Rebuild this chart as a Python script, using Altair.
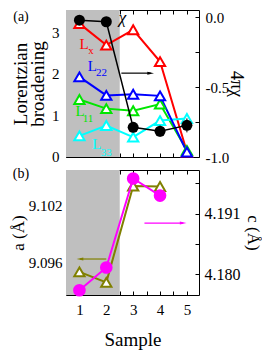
import altair as alt
import pandas as pd

FONT = "Liberation Serif"

# ---------------- data ----------------
samples = [1, 2, 3, 4, 5]
Lx = [3.22, 2.70, 3.07, 2.30, 0.11]
L11 = [1.38, 1.16, 1.11, 1.27, 0.15]
L33 = [0.50, 0.75, 0.47, 0.87, 0.92]
L22 = [1.93, 1.48, 1.51, 1.47, 0.11]
chi = [-0.023, -0.034, -0.788, -0.816, -0.774]
chi_err = [0.02, 0.02, 0.035, 0.04, 0.05]

ac_samples = [1, 2, 3, 4]
a_vals = [9.0931, 9.0955, 9.1049, 9.1031]
c_vals = [4.1804, 4.1785, 4.1960, 4.1959]

series_names = ["Lx", "L11", "L33", "L22"]
series_colors = ["#ff0000", "#00e600", "#00ffff", "#0000ff"]
label_main = ["L", "L", "L", "L"]
label_sub = ["x", "11", "33", "22"]
label_main_x = [1.17, 1.02, 1.65, 1.48]
label_main_y = [2.73, 1.10, 0.31, 2.20]
label_sub_x = [1.43, 1.32, 2.0, 1.82]
label_sub_y = [2.55, 0.91, 0.09, 2.02]

shade_range = [0.5, 2.5]
x_ticks = [1, 1.5, 2, 2.5, 3, 3.5, 4, 4.5, 5]
L_ticks = [0, 0.5, 1, 1.5, 2, 2.5, 3]
chi_ticks = [-1.0, -0.75, -0.5, -0.25, 0.0]
a_ticks = [9.093, 9.096, 9.099, 9.102, 9.105]
c_ticks = [4.180, 4.1855, 4.191, 4.1965]

# arrows: tail x, head x, y (on the left-hand scale of each panel)
arrow_chi = [2.56, 3.65, 2.02]
arrow_a = [2.0, 1.02, 9.0964]
arrow_c = [3.42, 4.86, 9.1002]

W, H1, H2 = 133, 147, 125

# ---------------- helpers ----------------
xscale = alt.Scale(domain=[0.5, 5.45], nice=False, zero=False)
common = dict(tickSize=4, offset=-4, domain=False, grid=False, tickColor="black")

x_plain_bottom = alt.Axis(orient="bottom", values=x_ticks, labels=False, title=None, **common)
x_plain_top = alt.Axis(orient="top", values=x_ticks, labels=False, title=None, **common)
x_label_bottom = alt.Axis(orient="bottom", values=x_ticks,
                          labelExpr="datum.value % 1 == 0 ? format(datum.value, '.0f') : ''",
                          title="Sample", titleFontSize=19, titlePadding=13,
                          labelFontSize=15, labelPadding=7, **common)

L_scale = alt.Scale(domain=[-0.012, 3.55], nice=False, zero=False)
chi_scale = alt.Scale(domain=[-1.0, 0.05], nice=False, zero=False)
a_scale = alt.Scale(domain=[9.0926, 9.1058], nice=False, zero=False)
c_scale = alt.Scale(domain=[4.1762, 4.1989], nice=False, zero=False)

L_axis = alt.Axis(orient="left", values=L_ticks,
                  labelExpr="datum.value % 1 == 0 ? format(datum.value, '.0f') : ''",
                  title=["Lorentzian", "broadening"], titleFontSize=19, titleLineHeight=17,
                  labelFontSize=15, labelPadding=7, titlePadding=4, **common)
chi_axis = alt.Axis(orient="right", values=chi_ticks,
                    labelExpr="(datum.value * 2) % 1 == 0 ? replace(format(datum.value, '.1f'), '\u2212', '-') : ''",
                    title="4πχ", titleFontSize=18, labelFontSize=15, labelPadding=6,
                    titlePadding=-2, **common)
a_axis = alt.Axis(orient="left", values=a_ticks,
                  labelExpr="indexof([9.096, 9.102], datum.value) >= 0 ? format(datum.value, '.3f') : ''",
                  title="a (Å)", titleFontSize=17, labelFontSize=15, labelPadding=4,
                  titlePadding=1, **common)
c_axis = alt.Axis(orient="right", values=c_ticks,
                  labelExpr="indexof([4.18, 4.191], datum.value) >= 0 ? format(datum.value, '.3f') : ''",
                  title="c (Å)", titleFontSize=17, labelFontSize=16, labelPadding=5,
                  titlePadding=3, **common)

shade_df = pd.DataFrame({"x0": [shade_range[0]], "x1": [shade_range[1]]})


def shade(h, xaxis):
    return alt.Chart(shade_df).mark_rect(color="#bfbfbf").encode(
        x=alt.X("x0:Q", scale=xscale, axis=xaxis), x2="x1:Q",
        y=alt.value(0), y2=alt.value(h))


def arrow(spec, color, path, xaxis, yscale, yaxis):
    rd = pd.DataFrame({"tail": [spec[0]], "head": [spec[1]], "yy": [spec[2]]})
    rule = alt.Chart(rd).mark_rule(color=color, strokeWidth=1.2).encode(
        x=alt.X("tail:Q", scale=xscale, axis=xaxis), x2="head:Q",
        y=alt.Y("yy:Q", scale=yscale, axis=yaxis))
    hd = alt.Chart(rd).mark_point(shape=path, filled=True, color=color, size=45, opacity=1).encode(
        x=alt.X("head:Q", scale=xscale, axis=xaxis),
        y=alt.Y("yy:Q", scale=yscale, axis=yaxis))
    return [rule, hd]


# ---------------- top panel ----------------
rows = []
for name, vals in zip(series_names, [Lx, L11, L33, L22]):
    for s, v in zip(samples, vals):
        rows.append({"series": name, "sample": s, "v": v})
Ldf = pd.DataFrame(rows)
stroke_enc = alt.Stroke("series:N", scale=alt.Scale(domain=series_names, range=series_colors), legend=None)

L_lines = alt.Chart(Ldf).mark_line(strokeWidth=2).encode(
    x=alt.X("sample:Q", scale=xscale, axis=x_plain_bottom),
    y=alt.Y("v:Q", scale=L_scale, axis=L_axis),
    stroke=stroke_enc, detail="series:N")
L_pts = alt.Chart(Ldf).mark_point(shape="triangle-up", size=105, strokeWidth=2,
                                  fill="white", fillOpacity=1, opacity=1).encode(
    x=alt.X("sample:Q", scale=xscale, axis=x_plain_bottom),
    y=alt.Y("v:Q", scale=L_scale, axis=L_axis),
    stroke=stroke_enc)

lab_df = pd.DataFrame({"t": label_main, "x": label_main_x, "y": label_main_y, "c": series_colors})
sub_df = pd.DataFrame({"t": label_sub, "x": label_sub_x, "y": label_sub_y, "c": series_colors})
lab_main = alt.Chart(lab_df).mark_text(font=FONT, fontSize=15).encode(
    x=alt.X("x:Q", scale=xscale, axis=x_plain_bottom),
    y=alt.Y("y:Q", scale=L_scale, axis=L_axis),
    text="t:N", color=alt.Color("c:N", scale=None))
lab_sub = alt.Chart(sub_df).mark_text(font=FONT, fontSize=11).encode(
    x=alt.X("x:Q", scale=xscale, axis=x_plain_bottom),
    y=alt.Y("y:Q", scale=L_scale, axis=L_axis),
    text="t:N", color=alt.Color("c:N", scale=None))
chi_lab = alt.Chart(pd.DataFrame({"t": ["χ"], "x": [2.6], "y": [3.36]})).mark_text(
    font=FONT, fontSize=17, fontStyle="italic", color="black").encode(
    x=alt.X("x:Q", scale=xscale, axis=x_plain_bottom),
    y=alt.Y("y:Q", scale=L_scale, axis=L_axis), text="t:N")
panel_a = alt.Chart(pd.DataFrame({"t": ["(a)"]})).mark_text(
    font=FONT, fontSize=14, color="black").encode(
    text="t:N", x=alt.value(-45), y=alt.value(7))

chi_arrow = arrow(arrow_chi, "black", "M-1,-0.45L1,0L-1,0.45Z", x_plain_bottom, L_scale, L_axis)

left_top = alt.layer(shade(H1, x_plain_bottom), L_lines, L_pts, lab_main, lab_sub,
                     chi_lab, *chi_arrow, panel_a)

chi_df = pd.DataFrame({"sample": samples, "chi": chi,
                       "lo": [c - e for c, e in zip(chi, chi_err)],
                       "hi": [c + e for c, e in zip(chi, chi_err)]})
chi_line = alt.Chart(chi_df).mark_line(color="black", strokeWidth=1.5).encode(
    x=alt.X("sample:Q", scale=xscale, axis=x_plain_top),
    y=alt.Y("chi:Q", scale=chi_scale, axis=chi_axis))
chi_bar = alt.Chart(chi_df).mark_rule(color="black", strokeWidth=1).encode(
    x=alt.X("sample:Q", scale=xscale, axis=x_plain_top),
    y=alt.Y("lo:Q", scale=chi_scale, axis=chi_axis), y2="hi:Q")
chi_pts = alt.Chart(chi_df).mark_circle(color="black", size=121, opacity=1).encode(
    x=alt.X("sample:Q", scale=xscale, axis=x_plain_top),
    y=alt.Y("chi:Q", scale=chi_scale, axis=chi_axis))
right_top = alt.layer(chi_line, chi_bar, chi_pts)

top = alt.layer(left_top, right_top).resolve_scale(y="independent").resolve_axis(
    x="independent").properties(width=W, height=H1)

# ---------------- bottom panel ----------------
ac_df = pd.DataFrame({"sample": ac_samples, "a": a_vals, "c": c_vals})
OLIVE = "#808000"
MAG = "#ff00ff"
c_line = alt.Chart(ac_df).mark_line(color=OLIVE, strokeWidth=2).encode(
    x=alt.X("sample:Q", scale=xscale, axis=x_plain_top),
    y=alt.Y("c:Q", scale=c_scale, axis=c_axis))
c_pts = alt.Chart(ac_df).mark_point(shape="triangle-up", size=105, strokeWidth=2, color=OLIVE,
                                    fill="white", fillOpacity=1, opacity=1).encode(
    x=alt.X("sample:Q", scale=xscale, axis=x_plain_top),
    y=alt.Y("c:Q", scale=c_scale, axis=c_axis))
olive_group = alt.layer(shade(H2, x_plain_top), c_line, c_pts)

a_line = alt.Chart(ac_df).mark_line(color=MAG, strokeWidth=2).encode(
    x=alt.X("sample:Q", scale=xscale, axis=x_label_bottom),
    y=alt.Y("a:Q", scale=a_scale, axis=a_axis))
a_pts = alt.Chart(ac_df).mark_circle(color=MAG, size=160, opacity=1).encode(
    x=alt.X("sample:Q", scale=xscale, axis=x_label_bottom),
    y=alt.Y("a:Q", scale=a_scale, axis=a_axis))
a_arrow = arrow(arrow_a, OLIVE, "M1,-0.45L-1,0L1,0.45Z", x_label_bottom, a_scale, a_axis)
c_arrow = arrow(arrow_c, MAG, "M-1,-0.45L1,0L-1,0.45Z", x_label_bottom, a_scale, a_axis)
panel_b = alt.Chart(pd.DataFrame({"t": ["(b)"]})).mark_text(
    font=FONT, fontSize=14, color="black").encode(
    text="t:N", x=alt.value(-45), y=alt.value(4))
mag_group = alt.layer(a_line, a_pts, *a_arrow, *c_arrow, panel_b)

bottom = alt.layer(olive_group, mag_group).resolve_scale(y="independent").resolve_axis(
    x="independent").properties(width=W, height=H2)

chart = alt.vconcat(top, bottom, spacing=0).properties(
    padding={"left": 0, "top": 0, "right": 0, "bottom": 0}
).configure(font=FONT).configure_view(stroke="black", strokeWidth=1).configure_axis(
    labelFont=FONT, titleFont=FONT, labelColor="black", titleColor="black",
    titleFontWeight="normal")

chart.save("out.html", embed_options={"renderer": "svg", "actions": False})
